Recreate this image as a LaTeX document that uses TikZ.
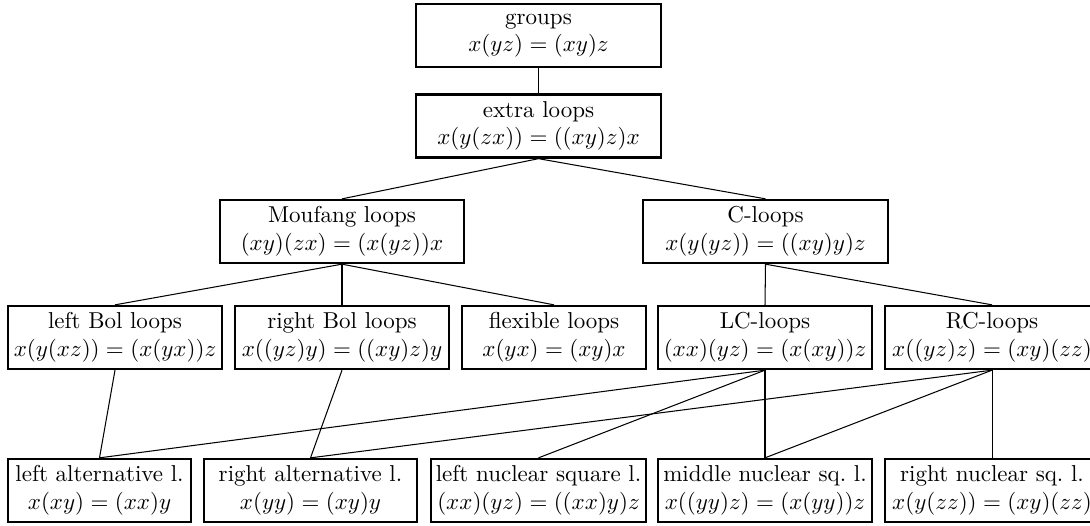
\documentclass[tikz,border=0pt]{standalone}
\begin{document}
\begin{tikzpicture}[x=0.43478pt,y=-0.43478pt,
  box/.style={draw,line width=1pt,align=center,inner sep=0pt,minimum height=27.4pt},
  conn/.style={line width=0.45pt}]
\useasboundingbox (0,0) rectangle (1090,525);
\clip (0,0) rectangle (1090,525);
% row 1-2
\node[box,minimum width=106.5pt] (groups) at (538.5,35.5) {groups\\$x(yz)=(xy)z$};
\node[box,minimum width=106.5pt] (extra) at (538.5,126) {extra loops\\$x(y(zx))=((xy)z)x$};
% row 3
\node[box,minimum width=106.1pt] (mouf) at (342,231.5) {Moufang loops\\$(xy)(zx)=(x(yz))x$};
\node[box,minimum width=106.5pt] (cl) at (765.5,231.5) {C-loops\\$x(y(yz))=((xy)y)z$};
% row 4
\node[box,minimum width=93pt] (lbol) at (115,337.5) {left Bol loops\\$x(y(xz))=(x(yx))z$};
\node[box,minimum width=93pt] (rbol) at (342,337.5) {right Bol loops\\$x((yz)y)=((xy)z)y$};
\node[box,minimum width=80pt] (flex) at (554,337.5) {flexible loops\\$x(yx)=(xy)x$};
\node[box,minimum width=93pt] (lc) at (765,337.5) {LC-loops\\$(xx)(yz)=(x(xy))z$};
\node[box,minimum width=93pt] (rc) at (992,337.5) {RC-loops\\$x((yz)z)=(xy)(zz)$};
% row 5
\node[box,minimum width=79.6pt] (lalt) at (99.5,490.5) {left alternative l.\\$x(xy)=(xx)y$};
\node[box,minimum width=92.6pt] (ralt) at (310.5,490.5) {right alternative l.\\$x(yy)=(xy)y$};
\node[box,minimum width=93.5pt] (lnuc) at (538.5,490.5) {left nuclear square l.\\$(xx)(yz)=((xx)y)z$};
\node[box,minimum width=93pt] (mnuc) at (765,490.5) {middle nuclear sq.\ l.\\$x((yy)z)=(x(yy))z$};
\node[box,minimum width=93pt] (rnuc) at (992,490.5) {right nuclear sq.\ l.\\$x(y(zz))=(xy)(zz)$};
% connectors
\draw[conn] (groups.south) -- (extra.north);
\draw[conn] (extra.south) -- (mouf.north);
\draw[conn] (extra.south) -- (cl.north);
\draw[conn] (mouf.south) -- (lbol.north);
\draw[conn] (mouf.south) -- (rbol.north);
\draw[conn] (mouf.south) -- (flex.north);
\draw[conn] (cl.south) -- (lc.north);
\draw[conn] (cl.south) -- (rc.north);
\draw[conn] (lbol.south) -- (lalt.north);
\draw[conn] (rbol.south) -- (ralt.north);
\draw[conn] (lc.south) -- (lalt.north);
\draw[conn] (lc.south) -- (lnuc.north);
\draw[conn] (lc.south) -- (mnuc.north);
\draw[conn] (rc.south) -- (ralt.north);
\draw[conn] (rc.south) -- (mnuc.north);
\draw[conn] (rc.south) -- (rnuc.north);
\end{tikzpicture}
\end{document}
